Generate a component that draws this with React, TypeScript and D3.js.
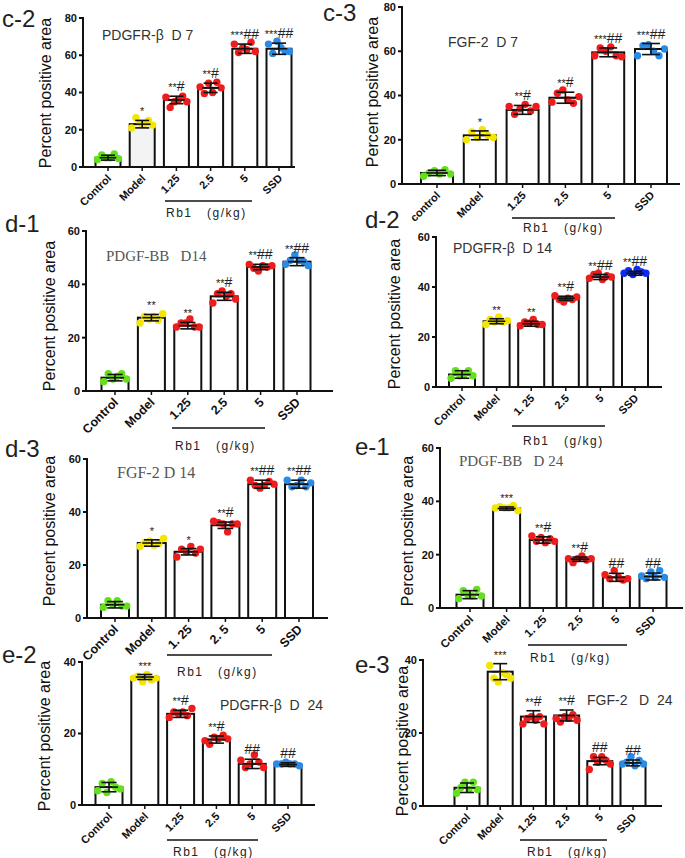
import React from 'react';
import * as d3 from 'd3';

// group colours: control, model, three Rb1 doses, SSD
const GREEN = '#63e01b';
const YELLOW = '#f4e600';
const RED = '#ee1c1c';
const BLUE = '#2a8ae6';
const ROYAL = '#0c2cf0';

const labelsA = ['Control', 'Model', '1.25', '2.5', '5', 'SSD'];
const labelsC3 = ['control', 'Model', '1.25', '2.5', '5', 'SSD'];
const labelsSpaced = ['Control', 'Model', '1. 25', '2.5', '5', 'SSD'];
const labelsD3 = ['Control', 'Model', '1. 25', '2. 5', '5', 'SSD'];

const ticks80 = [0, 20, 40, 60, 80];
const ticks60 = [0, 20, 40, 60];
const ticks40 = [0, 20, 40];

// c-2 PDGFR-β D7
const c2Means = [5, 23, 36, 42.5, 63.5, 63.5];
const c2Sd = [1.3, 2, 2, 2.5, 2.5, 3];
const c2Pts = [
  [4, 6.5, 5, 5, 7, 4.5],
  [21, 26.5, 23.5, 23, 25, 22.5],
  [37.5, 32, 35, 36, 38, 35],
  [43, 39.5, 45, 40, 45.5, 42.5],
  [66, 61.5, 64, 63, 67, 62],
  [66, 61, 67.5, 64, 62, 62],
];
const c2Sig = ['', '*', '**#', '**#', '***##', '***##'];

// c-3 FGF-2 D7
const c3Means = [5, 22, 33.5, 39, 59.5, 61];
const c3Sd = [1.2, 2, 2, 2.5, 2, 2.5];
const c3Pts = [
  [3.5, 5, 6, 4.5, 6.5, 4.5],
  [20, 23.5, 21, 24.5, 22, 21],
  [35, 31.5, 34, 36, 33, 35],
  [37, 41, 42.5, 38, 36.5, 39.5],
  [58, 61.5, 60, 62, 58, 57.5],
  [58, 62.5, 63, 60, 58, 61],
];
const c3Sig = ['', '*', '**#', '**#', '***##', '***##'];

// d-1 PDGF-BB D14
const d1Means = [5, 27.5, 24.5, 35.5, 46.5, 48.5];
const d1Sd = [1.2, 1.2, 1.2, 1.5, 1, 1.5];
const d1Pts = [
  [3.5, 6.5, 4.5, 5.5, 6.5, 4.5],
  [25.5, 28, 27, 28, 26.5, 29],
  [24, 25.5, 25.5, 27, 24, 24],
  [33, 36.5, 37.5, 35.5, 36.5, 34.5],
  [47.5, 46, 45, 47, 46.5, 47],
  [47.5, 49, 51, 49, 48.5, 47],
];
const d1Sig = ['', '**', '**', '**#', '**##', '**##'];

// d-2 PDGFR-β D14
const d2Means = [5, 26.3, 25.3, 35.5, 44, 45.5];
const d2Sd = [1.5, 1, 1, 0.8, 1, 0.8];
const d2Pts = [
  [3.5, 6.5, 4.5, 5, 6.5, 4.5],
  [25, 27, 26, 28, 26, 26.5],
  [24.5, 26, 25.5, 27, 25, 25],
  [36.5, 35, 34, 35.5, 35, 36],
  [43.5, 45, 45.5, 43, 44.5, 44],
  [45.5, 46.5, 45, 47, 46, 45.5],
];
const d2Sig = ['', '**', '**', '**#', '**##', '**##'];

// d-3 FGF-2 D14
const d3Means = [5, 28.3, 25, 35, 50.5, 50.5];
const d3Sd = [1.2, 1.2, 1.2, 1.2, 1.5, 1.5];
const d3Pts = [
  [4, 6.5, 5, 6.5, 4.5, 4.5],
  [27, 28.5, 29, 27.5, 28, 30],
  [23, 26, 25, 27, 24.5, 26],
  [36.5, 36, 35.5, 32.5, 35.5, 35.5],
  [52, 50, 49, 50, 51.5, 50.5],
  [52, 49.5, 50, 52, 49.5, 51],
];
const d3Sig = ['', '*', '*', '**#', '**##', '**##'];

// e-1 PDGF-BB D24
const e1Means = [5, 37.3, 25.5, 18.3, 11.5, 11.8];
const e1Sd = [1.5, 0.6, 1.2, 0.8, 1.5, 1.3];
const e1Pts = [
  [3.5, 6.5, 5, 4.5, 7, 4.5],
  [37.5, 38, 37.5, 37.5, 38.5, 36.5],
  [27, 25, 26.5, 24.5, 26, 25],
  [18.5, 17, 18.5, 19.5, 18, 18.5],
  [12.5, 11, 14, 11.5, 10.5, 11],
  [12, 11, 13.5, 11.5, 14, 11.5],
];
const e1Sig = ['', '***', '**#', '**#', '##', '##'];

// e-2 PDGFR-β D24
const e2Means = [5, 35.8, 25.5, 18.3, 11.5, 11.3];
const e2Sd = [1.3, 0.7, 1, 1, 1.3, 0.5];
const e2Pts = [
  [4, 6, 3.5, 6.5, 5, 4.5],
  [35.5, 36, 34.5, 36.5, 35, 35.5],
  [24.5, 26, 25.5, 26, 25, 27],
  [18, 17, 19, 18.5, 19.5, 18.5],
  [12.5, 10.5, 11.5, 14, 12, 10.5],
  [11.5, 11.5, 12, 11.5, 11.5, 11],
];
const e2Sig = ['', '***', '**#', '**#', '##', '##'];

// e-3 FGF-2 D24
const e3Means = [5, 36.8, 24.5, 24.8, 12.3, 11.8];
const e3Sd = [1.3, 2.2, 1.6, 1.5, 1, 0.8];
const e3Pts = [
  [3.5, 5, 6.5, 4.5, 6.5, 4.5],
  [38.5, 35, 34, 36.5, 36, 35],
  [22.5, 24, 24.5, 23.5, 24.5, 22.5],
  [24, 23, 24.5, 24, 25, 23.5],
  [10, 13.5, 12, 13.5, 12.5, 11.5],
  [11.5, 12, 13.5, 11, 12.5, 11.5],
];
const e3Sig = ['', '***', '**#', '**#', '##', '##'];

const SANS = '"Liberation Sans", Arial, sans-serif';
const SERIF = '"Liberation Serif", "Times New Roman", serif';

// horizontal spread of the six dots, as a share of bar width
const jitter = [-0.42, -0.25, -0.08, 0.08, 0.25, 0.42];

const panels = [
  {
    tag: 'c-2', tagX: 2, tagY: 27,
    title: 'PDGFR-β  D 7', titleX: 102, titleY: 40, serif: false, titleSize: 14,
    axisX: 83, y0: 167, yTop: 18, yMax: 80, ticks: ticks80, axisEnd: 295,
    c0: 108, c5: 279, bw: 25, labels: labelsA, labelSize: 11,
    yTitleX: 51, yTitleY: 93,
    rbY: 201, rbX0: 165, rbX1: 252, rbTextX: 166, rbTextY: 217,
    means: c2Means, sd: c2Sd, pts: c2Pts, sig: c2Sig, ssd: BLUE, modelFill: '#f3f3f3',
  },
  {
    tag: 'c-3', tagX: 323, tagY: 21,
    title: 'FGF-2  D 7', titleX: 448, titleY: 47, serif: false, titleSize: 14,
    axisX: 402, y0: 184, yTop: 7, yMax: 80, ticks: ticks80, axisEnd: 680,
    c0: 437, c5: 651, bw: 32, labels: labelsC3, labelSize: 11,
    yTitleX: 378, yTitleY: 92,
    rbY: 218, rbX0: 512, rbX1: 615, rbTextX: 523, rbTextY: 232,
    means: c3Means, sd: c3Sd, pts: c3Pts, sig: c3Sig, ssd: BLUE, modelFill: '#fff',
  },
  {
    tag: 'd-1', tagX: 5, tagY: 232,
    title: 'PDGF-BB   D14', titleX: 106, titleY: 261, serif: true, titleSize: 15,
    axisX: 86, y0: 391, yTop: 231, yMax: 60, ticks: ticks60, axisEnd: 333,
    c0: 115, c5: 297, bw: 27, labels: labelsA, labelSize: 12.5,
    yTitleX: 55, yTitleY: 316,
    rbY: 428, rbX0: 172, rbX1: 265, rbTextX: 175, rbTextY: 450,
    means: d1Means, sd: d1Sd, pts: d1Pts, sig: d1Sig, ssd: BLUE, modelFill: '#fff',
  },
  {
    tag: 'd-2', tagX: 365, tagY: 228,
    title: 'PDGFR-β  D 14', titleX: 453, titleY: 253, serif: false, titleSize: 14,
    axisX: 436, y0: 387, yTop: 237, yMax: 60, ticks: ticks60, axisEnd: 662,
    c0: 462, c5: 635, bw: 26, labels: labelsSpaced, labelSize: 11,
    yTitleX: 400, yTitleY: 314,
    rbY: 426, rbX0: 512, rbX1: 605, rbTextX: 523, rbTextY: 445,
    means: d2Means, sd: d2Sd, pts: d2Pts, sig: d2Sig, ssd: ROYAL, modelFill: '#fff',
  },
  {
    tag: 'd-3', tagX: 5, tagY: 457,
    title: 'FGF-2 D 14', titleX: 117, titleY: 478, serif: true, titleSize: 16,
    axisX: 87, y0: 618, yTop: 459, yMax: 60, ticks: ticks60, axisEnd: 328,
    c0: 115, c5: 299, bw: 28, labels: labelsD3, labelSize: 12.5,
    yTitleX: 55, yTitleY: 531,
    rbY: 655, rbX0: 167, rbX1: 272, rbTextX: 177, rbTextY: 676,
    means: d3Means, sd: d3Sd, pts: d3Pts, sig: d3Sig, ssd: BLUE, modelFill: '#fff',
  },
  {
    tag: 'e-1', tagX: 355, tagY: 455,
    title: 'PDGF-BB   D 24', titleX: 459, titleY: 466, serif: true, titleSize: 15,
    axisX: 440, y0: 608, yTop: 448, yMax: 60, ticks: ticks60, axisEnd: 683,
    c0: 470, c5: 653, bw: 27, labels: labelsSpaced, labelSize: 11.5,
    yTitleX: 413, yTitleY: 531,
    rbY: 645, rbX0: 528, rbX1: 627, rbTextX: 530, rbTextY: 662,
    means: e1Means, sd: e1Sd, pts: e1Pts, sig: e1Sig, ssd: BLUE, modelFill: '#fff',
  },
  {
    tag: 'e-2', tagX: 2, tagY: 663,
    title: 'PDGFR-β  D  24', titleX: 220, titleY: 710, serif: false, titleSize: 14,
    axisX: 82, y0: 805, yTop: 662, yMax: 40, ticks: ticks40, axisEnd: 315,
    c0: 109, c5: 288, bw: 27, labels: labelsA, labelSize: 11,
    yTitleX: 50, yTitleY: 736,
    rbY: 840, rbX0: 167, rbX1: 258, rbTextX: 173, rbTextY: 856,
    means: e2Means, sd: e2Sd, pts: e2Pts, sig: e2Sig, ssd: BLUE, modelFill: '#fff',
  },
  {
    tag: 'e-3', tagX: 355, tagY: 673,
    title: 'FGF-2   D  24', titleX: 587, titleY: 705, serif: false, titleSize: 14,
    axisX: 423, y0: 806, yTop: 660, yMax: 40, ticks: ticks40, axisEnd: 662,
    c0: 467, c5: 633, bw: 25, labels: labelsA, labelSize: 11,
    yTitleX: 408, yTitleY: 741,
    rbY: 840, rbX0: 520, rbX1: 607, rbTextX: 527, rbTextY: 856,
    means: e3Means, sd: e3Sd, pts: e3Pts, sig: e3Sig, ssd: BLUE, modelFill: '#fff',
  },
];

type Cfg = (typeof panels)[number];

// stars are printed small, hashes a bit larger, as in the original figure
function SigMark({ x, y, s }: { x: number; y: number; s: string }) {
  const stars = s.replace(/#/g, '');
  const hashes = s.replace(/\*/g, '');
  return (
    <text x={x} y={y} textAnchor="middle" fontFamily={SANS} fill="#222">
      {stars && <tspan fontSize={11}>{stars}</tspan>}
      {hashes && <tspan fontSize={14}>{hashes}</tspan>}
    </text>
  );
}

function Panel({ p }: { p: Cfg }) {
  const x = d3.scalePoint<string>().domain(p.labels).range([p.c0, p.c5]);
  const y = d3.scaleLinear().domain([0, p.yMax]).range([p.y0, p.yTop]);
  const colors = [GREEN, YELLOW, RED, RED, RED, p.ssd];
  const cap = p.bw * 0.28;

  return (
    <g>
      <text x={p.tagX} y={p.tagY} fontFamily={SANS} fontSize={24} fill="#231f20">{p.tag}</text>
      <text
        x={p.titleX} y={p.titleY}
        fontFamily={p.serif ? SERIF : SANS} fontSize={p.titleSize}
        fill={p.serif ? '#555' : '#333'} style={{ whiteSpace: 'pre' }}
      >{p.title}</text>
      <text
        transform={`translate(${p.yTitleX},${p.yTitleY}) rotate(-90)`}
        textAnchor="middle" fontFamily={SANS} fontSize={16} fill="#111"
      >Percent positive area</text>

      {/* bars */}
      {p.labels.map((c, i) => (
        <rect key={'b' + i}
          x={x(c)! - p.bw / 2} y={y(p.means[i])}
          width={p.bw} height={p.y0 - y(p.means[i])}
          fill={i === 1 ? p.modelFill : '#fff'} stroke="#111" strokeWidth={2} />
      ))}

      {/* dots */}
      {p.labels.map((c, i) => p.pts[i].map((v, j) => (
        <circle key={`p${i}-${j}`} cx={x(c)! + jitter[j] * p.bw} cy={y(v)} r={3.7} fill={colors[i]} />
      )))}

      {/* mean ± sd */}
      {p.labels.map((c, i) => {
        const cx = x(c)!;
        const hi = y(p.means[i] + p.sd[i]);
        const lo = y(p.means[i] - p.sd[i]);
        const m = y(p.means[i]);
        return (
          <g key={'e' + i} stroke="#111" strokeWidth={1.6}>
            <line x1={cx} x2={cx} y1={hi} y2={lo} />
            <line x1={cx - cap} x2={cx + cap} y1={hi} y2={hi} />
            <line x1={cx - cap} x2={cx + cap} y1={lo} y2={lo} />
            <line x1={cx - cap * 1.2} x2={cx + cap * 1.2} y1={m} y2={m} />
          </g>
        );
      })}

      {/* significance marks */}
      {p.labels.map((c, i) => (
        <SigMark key={'s' + i} x={x(c)!} y={y(p.means[i] + p.sd[i]) - 5} s={p.sig[i]} />
      ))}

      {/* axes */}
      <line x1={p.axisX} x2={p.axisX} y1={p.yTop - 1} y2={p.y0 + 1} stroke="#111" strokeWidth={2} />
      <line x1={p.axisX - 1} x2={p.axisEnd} y1={p.y0} y2={p.y0} stroke="#111" strokeWidth={2} />
      {p.ticks.map(t => (
        <g key={'t' + t}>
          <line x1={p.axisX - 4} x2={p.axisX} y1={y(t)} y2={y(t)} stroke="#111" strokeWidth={2} />
          <text x={p.axisX - 6} y={y(t)} dy="0.35em" textAnchor="end"
            fontFamily={SANS} fontWeight="bold" fontSize={11} fill="#111">{t}</text>
        </g>
      ))}
      {p.labels.map((c, i) => (
        <g key={'x' + i}>
          <line x1={x(c)} x2={x(c)} y1={p.y0} y2={p.y0 + 4} stroke="#111" strokeWidth={1.5} />
          <text transform={`translate(${x(c)! + 4},${p.y0 + 12}) rotate(-45)`}
            textAnchor="end" fontFamily={SANS} fontWeight="bold" fontSize={p.labelSize}
            fill="#111" style={{ whiteSpace: 'pre' }}>{c}</text>
        </g>
      ))}

      {/* Rb1 dose bracket */}
      <line x1={p.rbX0} x2={p.rbX1} y1={p.rbY} y2={p.rbY} stroke="#111" strokeWidth={1.5} />
      <text x={p.rbTextX} y={p.rbTextY} fontFamily={SANS} fontSize={12} letterSpacing={1.5}
        fill="#222" style={{ whiteSpace: 'pre' }}>{'Rb1   (g/kg)'}</text>
    </g>
  );
}

export default function App() {
  return (
    <svg width={685} height={858} style={{ position: 'absolute', left: 0, top: 0, background: '#fff' }}>
      <rect width={685} height={858} fill="#fff" />
      {panels.map(p => <Panel key={p.tag} p={p} />)}
    </svg>
  );
}
